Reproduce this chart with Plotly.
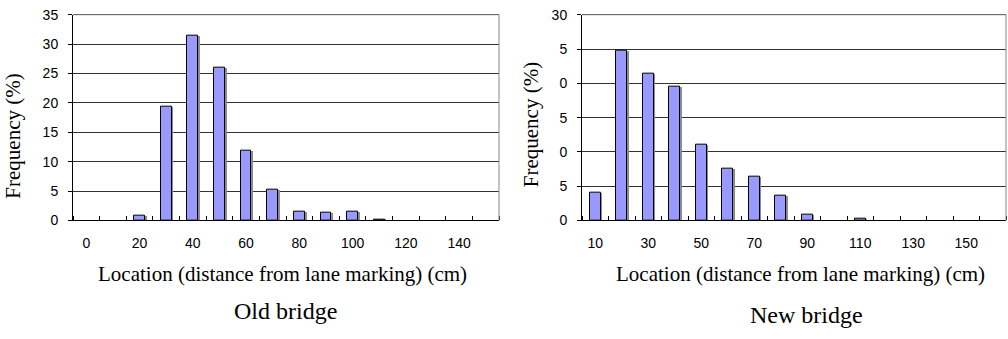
import plotly.graph_objects as go

# ---- data ----
old_locations = [0, 10, 20, 30, 40, 50, 60, 70, 80, 90, 100, 110, 120, 130, 140, 150]
old_freq = [0, 0, 0.8, 19.4, 31.4, 26.0, 11.9, 5.2, 1.5, 1.3, 1.5, 0.15, 0, 0, 0, 0]

new_locations = [10, 20, 30, 40, 50, 60, 70, 80, 90, 100, 110, 120, 130, 140, 150, 160]
new_freq = [4.1, 24.8, 21.4, 19.5, 11.0, 7.6, 6.35, 3.65, 0.8, 0, 0.25, 0, 0, 0, 0, 0]

old_xticks = [0, 20, 40, 60, 80, 100, 120, 140]
new_xticks = [10, 30, 50, 70, 90, 110, 130, 150]
old_yticks = [0, 5, 10, 15, 20, 25, 30, 35]
new_yticks = [0, 5, 10, 15, 20, 25, 30]
new_ytick_text = ["0", "5", "0", "5", "0", "5", "30"]  # left digits clipped in the original

x_title = "Location (distance from lane marking) (cm)"
y_title = "Frequency (%)"
old_label = "Old bridge"
new_label = "New bridge"

BAR = "#9999FF"
SHADOW = "#8c8c8c"
SERIF = "Liberation Serif, Times New Roman, serif"
SANS = "Liberation Sans, Arial, sans-serif"

W, H = 1008, 339
def px(x):
    return x / W
def py(y):
    return 1 - y / H

fig = go.Figure()

def add_bars(xs, ys, xa, ya):
    lw = [1 if v > 0 else 0 for v in ys]
    fig.add_trace(go.Bar(x=xs, y=ys, width=4.0, offset=-1.3,
                         marker=dict(color=SHADOW, line=dict(width=0)),
                         xaxis=xa, yaxis=ya, showlegend=False, hoverinfo="skip"))
    fig.add_trace(go.Bar(x=xs, y=ys, width=4.0, offset=-2.0,
                         marker=dict(color=BAR, line=dict(color="black", width=lw)),
                         xaxis=xa, yaxis=ya, showlegend=False))

add_bars(old_locations, old_freq, "x", "y")
add_bars(new_locations, new_freq, "x2", "y2")

ydom = [py(223), py(7)]

def xaxis(dom, rng, tickvals, tick0, anchor):
    return dict(domain=dom, range=rng, tickmode="array", tickvals=tickvals,
                ticktext=[str(v) for v in tickvals], anchor=anchor,
                showgrid=False, zeroline=False, showline=True, linecolor="black", linewidth=1,
                ticks="", ticklabelstandoff=10, ticklabeloverflow="allow",
                tickfont=dict(family=SANS, size=14, color="black"),
                minor=dict(ticks="inside", ticklen=4, tickcolor="black", tickwidth=1,
                           dtick=10, tick0=tick0, showgrid=False))

def yaxis(rng, tickvals, ticktext, anchor):
    return dict(domain=ydom, range=rng, tickmode="array", tickvals=tickvals,
                ticktext=ticktext, anchor=anchor,
                showgrid=True, gridcolor="#333333", gridwidth=1, zeroline=False,
                showline=True, linecolor="black", linewidth=1,
                ticks="outside", ticklen=4, tickcolor="black", ticklabelstandoff=7,
                ticklabeloverflow="allow",
                tickfont=dict(family=SANS, size=14, color="black"))

fig.update_layout(
    width=W, height=H,
    margin=dict(l=0, r=0, t=0, b=0),
    paper_bgcolor="white", plot_bgcolor="white",
    bargap=0, barmode="overlay",
    xaxis=xaxis([px(73), px(499)], [-5, 155], old_xticks, 5, "y"),
    yaxis=yaxis([0, 35.02], old_yticks, [str(v) for v in old_yticks], "x"),
    xaxis2=xaxis([px(582), px(1006)], [5, 165], new_xticks, 15, "y2"),
    yaxis2=yaxis([0, 30.02], new_yticks, new_ytick_text, "x2"),
)

# grey top/right borders of plot areas
for xr, yr in (("x", "y"), ("x2", "y2")):
    fig.add_shape(type="line", xref=f"{xr} domain", yref=f"{yr} domain",
                  x0=0, x1=1, y0=1, y1=1, line=dict(color="#555555", width=1))
    fig.add_shape(type="line", xref=f"{xr} domain", yref=f"{yr} domain",
                  x0=1, x1=1, y0=0, y1=1, line=dict(color="#888888", width=1))

ann = []
ann.append(dict(text=y_title, x=px(13), y=py(135), textangle=-90, size=21))
ann.append(dict(text=y_title, x=px(531), y=py(123), textangle=-90, size=21))
ann.append(dict(text=x_title, x=px(282), y=py(279), size=21))
ann.append(dict(text=x_title, x=px(800), y=py(279), size=21))
ann.append(dict(text=old_label, x=px(285), y=py(318), size=24))
ann.append(dict(text=new_label, x=px(806), y=py(322), size=24))
for a in ann:
    size = a.pop("size")
    fig.add_annotation(xref="paper", yref="paper", showarrow=False,
                       xanchor="center", yanchor="middle",
                       font=dict(family=SERIF, size=size, color="black"), **a)

fig.write_html("out.html", config={"displayModeBar": False},
               post_script="document.body.style.margin='0';document.body.style.overflow='hidden';")
